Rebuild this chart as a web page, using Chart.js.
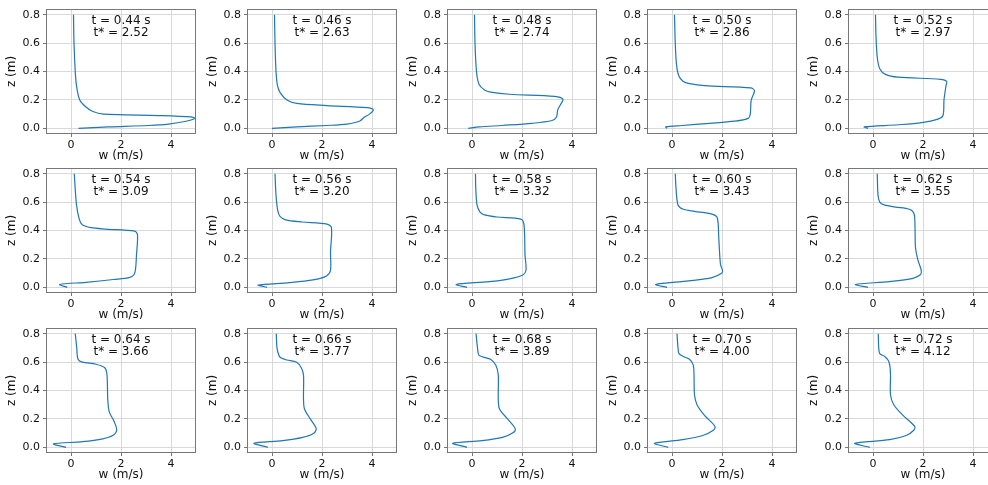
<!DOCTYPE html>
<html>
<head>
<meta charset="utf-8">
<script src="https://cdn.jsdelivr.net/npm/chart.js@4.4.1/dist/chart.umd.min.js"></script>
<style>
  html, body { margin: 0; background: #fff; }
  #wrap { position: relative; width: 988px; height: 485px; overflow: hidden; }
  #wrap canvas { position: absolute; }
</style>
</head>
<body>
<div id="wrap"></div>
<script>
// time labels for each panel (row by row)
const times = ['0.44', '0.46', '0.48', '0.50', '0.52', '0.54', '0.56', '0.58', '0.60', '0.62', '0.64', '0.66', '0.68', '0.70', '0.72'];
const tStars = ['2.52', '2.63', '2.74', '2.86', '2.97', '3.09', '3.20', '3.32', '3.43', '3.55', '3.66', '3.77', '3.89', '4.00', '4.12'];

const xTicks = [0, 2, 4];
const yTicks = [0, 0.2, 0.4, 0.6, 0.8];

// vertical velocity profiles, z (m) and w (m/s)
const z044 = [0, 0.01, 0.02, 0.03, 0.05, 0.07, 0.08, 0.09, 0.1, 0.12, 0.15, 0.2, 0.3, 0.4, 0.6, 0.8];
const w044 = [0.3, 1.5, 3.1, 3.9, 4.6, 4.95, 4.8, 3.5, 1.3, 0.85, 0.6, 0.35, 0.22, 0.17, 0.12, 0.1];

const z046 = [0, 0.01, 0.02, 0.03, 0.05, 0.08, 0.1, 0.13, 0.145, 0.16, 0.175, 0.2, 0.25, 0.3, 0.4, 0.6, 0.8];
const w046 = [0, 1.0, 2.2, 3.0, 3.5, 3.7, 3.9, 4.05, 3.8, 2.2, 1.0, 0.6, 0.33, 0.22, 0.16, 0.12, 0.1];

const z048 = [0, 0.01, 0.02, 0.035, 0.055, 0.08, 0.13, 0.17, 0.205, 0.225, 0.24, 0.255, 0.27, 0.31, 0.4, 0.6, 0.8];
const w048 = [-0.15, 0.3, 1.2, 2.4, 3.2, 3.38, 3.43, 3.55, 3.64, 3.3, 1.5, 0.75, 0.5, 0.28, 0.18, 0.12, 0.1];

const z050 = [0, 0.01, 0.02, 0.035, 0.05, 0.07, 0.1, 0.2, 0.265, 0.285, 0.3, 0.315, 0.33, 0.37, 0.45, 0.6, 0.8];
const w050 = [-0.2, -0.25, 0.4, 1.5, 2.5, 3.05, 3.13, 3.17, 3.3, 3.15, 1.3, 0.7, 0.45, 0.27, 0.18, 0.13, 0.1];

const z052 = [0, 0.01, 0.025, 0.04, 0.065, 0.09, 0.2, 0.3, 0.33, 0.345, 0.36, 0.38, 0.42, 0.5, 0.65, 0.8];
const w052 = [-0.2, -0.35, 1.0, 1.95, 2.6, 2.8, 2.84, 2.92, 2.95, 2.7, 1.0, 0.5, 0.27, 0.17, 0.12, 0.1];

const z054 = [0, 0.02, 0.035, 0.055, 0.07, 0.1, 0.23, 0.37, 0.395, 0.41, 0.42, 0.44, 0.48, 0.58, 0.8];
const w054 = [-0.15, -0.45, 0.6, 1.7, 2.35, 2.55, 2.62, 2.66, 2.55, 1.4, 0.8, 0.45, 0.33, 0.22, 0.13];

const z056 = [0, 0.016, 0.033, 0.052, 0.08, 0.12, 0.25, 0.42, 0.445, 0.46, 0.475, 0.5, 0.54, 0.65, 0.8];
const w056 = [-0.2, -0.55, 0.7, 1.64, 2.18, 2.34, 2.34, 2.38, 2.2, 1.2, 0.55, 0.32, 0.23, 0.16, 0.12];

const z058 = [0, 0.02, 0.04, 0.06, 0.087, 0.12, 0.23, 0.44, 0.48, 0.495, 0.51, 0.53, 0.58, 0.7, 0.8];
const w058 = [-0.2, -0.63, 0.68, 1.5, 2.03, 2.16, 2.12, 2.08, 1.95, 1.0, 0.5, 0.32, 0.2, 0.15, 0.14];

const z060 = [0, 0.02, 0.045, 0.068, 0.1, 0.12, 0.16, 0.35, 0.49, 0.515, 0.535, 0.55, 0.58, 0.7, 0.8];
const w060 = [-0.2, -0.65, 0.67, 1.6, 2.0, 2.02, 1.94, 1.87, 1.81, 1.6, 0.9, 0.45, 0.24, 0.16, 0.13];

const z062 = [0, 0.02, 0.04, 0.063, 0.09, 0.12, 0.19, 0.28, 0.42, 0.52, 0.55, 0.565, 0.58, 0.6, 0.65, 0.8];
const w062 = [-0.2, -0.7, 0.65, 1.6, 1.9, 1.93, 1.8, 1.7, 1.68, 1.64, 1.45, 0.9, 0.45, 0.27, 0.2, 0.17];

const z064 = [0, 0.024, 0.04, 0.06, 0.083, 0.12, 0.18, 0.25, 0.34, 0.51, 0.56, 0.585, 0.6, 0.62, 0.7, 0.8];
const w064 = [-0.2, -0.7, 0.47, 1.27, 1.67, 1.83, 1.73, 1.53, 1.47, 1.44, 1.35, 1.0, 0.45, 0.28, 0.23, 0.17];

const z066 = [0, 0.028, 0.047, 0.07, 0.095, 0.13, 0.2, 0.27, 0.34, 0.51, 0.56, 0.6, 0.615, 0.63, 0.65, 0.7, 0.8];
const w066 = [-0.17, -0.72, 0.43, 1.23, 1.64, 1.77, 1.53, 1.3, 1.26, 1.26, 1.17, 0.97, 0.6, 0.35, 0.27, 0.2, 0.17];

const z068 = [0, 0.028, 0.047, 0.07, 0.1, 0.13, 0.2, 0.27, 0.34, 0.51, 0.58, 0.62, 0.635, 0.65, 0.7, 0.8];
const w068 = [-0.2, -0.77, 0.4, 1.22, 1.62, 1.73, 1.42, 1.1, 1.05, 1.05, 0.95, 0.74, 0.45, 0.27, 0.22, 0.16];

const z070 = [0, 0.028, 0.054, 0.083, 0.12, 0.147, 0.225, 0.3, 0.37, 0.51, 0.58, 0.62, 0.64, 0.66, 0.7, 0.8];
const w070 = [-0.15, -0.7, 0.43, 1.23, 1.65, 1.72, 1.3, 1.0, 0.9, 0.88, 0.85, 0.7, 0.45, 0.28, 0.24, 0.2];

const z072 = [0, 0.028, 0.054, 0.083, 0.12, 0.147, 0.225, 0.3, 0.37, 0.51, 0.58, 0.615, 0.64, 0.66, 0.7, 0.8];
const w072 = [-0.13, -0.73, 0.67, 1.33, 1.63, 1.67, 1.2, 0.83, 0.7, 0.7, 0.67, 0.6, 0.47, 0.27, 0.23, 0.21];

const profiles = [
  [z044, w044], [z046, w046], [z048, w048], [z050, w050], [z052, w052],
  [z054, w054], [z056, w056], [z058, w058], [z060, w060], [z062, w062],
  [z064, w064], [z066, w066], [z068, w068], [z070, w070], [z072, w072]
];

const FONT = 'DejaVu Sans';
const TEXT = '#111';
const SPINE = '#777';

// frame around the axes + the time annotation
const framePlugin = {
  id: 'frame',
  afterDatasetsDraw(chart, args, opts) {
    const {ctx, chartArea: a, scales: {x, y}} = chart;
    ctx.save();
    ctx.strokeStyle = SPINE;
    ctx.lineWidth = 1;
    const l = Math.round(a.left) + 0.5, t = Math.round(a.top) + 0.5;
    const r = Math.round(a.right) - 0.5, b = Math.round(a.bottom) - 0.5;
    ctx.strokeRect(l, t, r - l, b - t);
    ctx.fillStyle = TEXT;
    ctx.font = '12px "' + FONT + '"';
    ctx.textAlign = 'center';
    ctx.textBaseline = 'middle';
    ctx.fillText('t = ' + opts.t + ' s', x.getPixelForValue(2), y.getPixelForValue(0.755));
    ctx.fillText('t* = ' + opts.ts, x.getPixelForValue(2), y.getPixelForValue(0.673));
    ctx.restore();
  }
};

const wrap = document.getElementById('wrap');

profiles.forEach(([zs, ws], i) => {
  const col = i % 5, row = Math.floor(i / 5);
  const cv = document.createElement('canvas');
  cv.width = 200;
  cv.height = 166;
  cv.style.left = Math.round(0.2 + 200.4 * col) + 'px';
  cv.style.top = Math.round(-3.4 + 159.5 * row) + 'px';
  wrap.appendChild(cv);

  new Chart(cv, {
    type: 'line',
    data: {
      datasets: [{
        data: zs.map((z, k) => ({x: ws[k], y: z})),
        borderColor: '#1f77b4',
        borderWidth: 1.2,
        pointRadius: 0,
        tension: 0.3,
        fill: false
      }]
    },
    options: {
      responsive: false,
      animation: false,
      indexAxis: 'y',
      layout: {padding: {top: 12, right: 4, left: 0, bottom: 0}},
      plugins: {
        legend: {display: false},
        tooltip: {enabled: false},
        frame: {t: times[i], ts: tStars[i]}
      },
      scales: {
        x: {
          type: 'linear',
          min: -1,
          max: 5,
          afterBuildTicks: s => { s.ticks = xTicks.map(v => ({value: v})); },
          afterFit: s => { s.height = 29; },
          border: {display: false},
          grid: {color: '#d9d9d9', tickColor: SPINE, tickLength: 3},
          ticks: {padding: 2, color: TEXT, font: {family: FONT, size: 11}, callback: v => String(v)},
          title: {display: true, text: 'w (m/s)', color: TEXT, font: {family: FONT, size: 12}, padding: 0}
        },
        y: {
          type: 'linear',
          min: -0.04,
          max: 0.84,
          afterBuildTicks: s => { s.ticks = yTicks.map(v => ({value: v})); },
          afterFit: s => { s.width = 46; },
          border: {display: false},
          grid: {color: '#d9d9d9', tickColor: SPINE, tickLength: 3},
          ticks: {padding: 3, color: TEXT, font: {family: FONT, size: 11}, callback: v => Number(v).toFixed(1)},
          title: {display: true, text: 'z (m)', color: TEXT, font: {family: FONT, size: 12}, padding: {top: 5, bottom: 0}}
        }
      }
    },
    plugins: [framePlugin]
  });
});
</script>
</body>
</html>
